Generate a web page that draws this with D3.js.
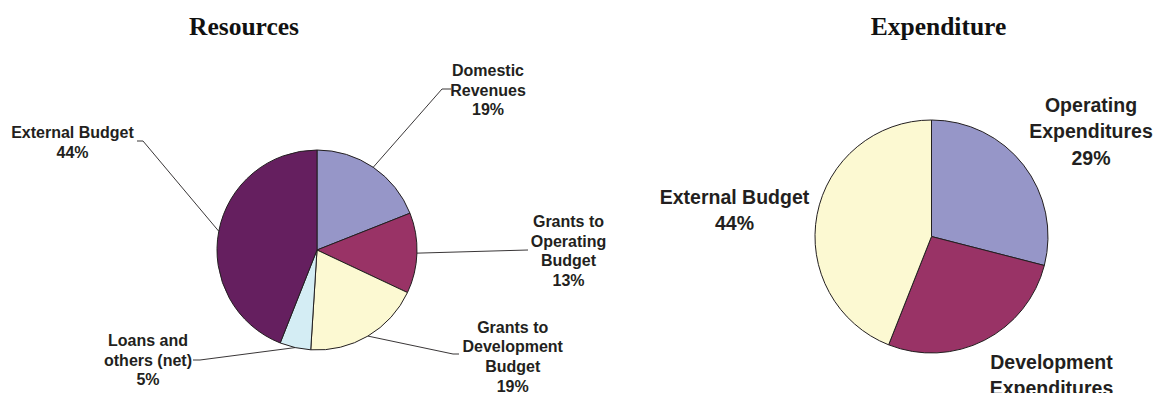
<!DOCTYPE html>
<html>
<head>
<meta charset="utf-8">
<script src="https://cdn.jsdelivr.net/npm/d3@7"></script>
<style>
  html, body { margin: 0; padding: 0; background: #fff; }
  svg { display: block; }
</style>
</head>
<body>
<svg id="chart" width="1157" height="393"></svg>
<script>
// Budget composition, shares in percent
const resourceCategories = [
  ["Domestic", "Revenues"],
  ["Grants to", "Operating", "Budget"],
  ["Grants to", "Development", "Budget"],
  ["Loans and", "others (net)"],
  ["External Budget"]
];
const resourceShares = [19, 13, 19, 5, 44];

const expenditureCategories = [
  ["Operating", "Expenditures"],
  ["Development", "Expenditures"],
  ["External Budget"]
];
const expenditureShares = [29, 27, 44];

const chartTitles = ["Resources", "Expenditure"];

// Slice fills
const resourceColors = ["#9696c8", "#993366", "#fcf9d2", "#d4edf4", "#651f5f"];
const expenditureColors = ["#9696c8", "#993366", "#fcf9d2"];

// Label anchors (centre x, first baseline y) and leader elbows
const resourceLabelLayout = [
  { x: 488, y: 76, lead: [[442, 89], [451, 89]] },
  { x: 568.5, y: 227, lead: [[528, 250]] },
  { x: 512.7, y: 332.5, lead: [[453, 354], [459, 354]] },
  { x: 148, y: 346, lead: [[200, 360], [193, 360]] },
  { x: 72.5, y: 138, lead: [[143, 141], [137, 141]] }
];
const expenditureLabelLayout = [
  { x: 1091, y: 111.5 },
  { x: 1051.5, y: 368.5 },
  { x: 734.5, y: 203.5 }
];

const svg = d3.select("#chart");
const ink = "#231f20";

function drawPie(opts) {
  const g = svg.append("g").attr("transform", `translate(${opts.cx},${opts.cy})`);
  const pie = d3.pie().sort(null).value(d => d)(opts.values);
  const arc = d3.arc().innerRadius(0).outerRadius(opts.r);

  g.selectAll("path.slice")
    .data(pie)
    .join("path")
    .attr("class", "slice")
    .attr("d", arc)
    .attr("fill", (d, i) => opts.colors[i])
    .attr("stroke", ink)
    .attr("stroke-width", 1)
    .attr("stroke-linejoin", "round");

  // leader lines from the slice's mid-angle on the rim to the label
  if (opts.leaders) {
    pie.forEach((d, i) => {
      const a = (d.startAngle + d.endAngle) / 2;
      const start = [opts.cx + opts.r * Math.sin(a), opts.cy - opts.r * Math.cos(a)];
      const pts = [start].concat(opts.layout[i].lead);
      svg.append("path")
        .attr("d", d3.line()(pts))
        .attr("fill", "none")
        .attr("stroke", ink)
        .attr("stroke-width", 0.9);
    });
  }

  // labels: category lines followed by the share
  pie.forEach((d, i) => {
    const L = opts.layout[i];
    const lines = opts.categories[i].concat([`${opts.values[i]}%`]);
    const t = svg.append("text")
      .attr("x", L.x)
      .attr("y", L.y)
      .attr("text-anchor", "middle")
      .attr("font-family", "'Liberation Sans', Arial, sans-serif")
      .attr("font-weight", "bold")
      .attr("font-size", opts.fontSize)
      .attr("fill", ink);
    lines.forEach((s, k) => {
      t.append("tspan")
        .attr("x", L.x)
        .attr("dy", k === 0 ? 0 : opts.lineHeight)
        .text(s);
    });
  });

  svg.append("text")
    .attr("x", opts.titleX)
    .attr("y", 34.5)
    .attr("text-anchor", "middle")
    .attr("font-family", "'Liberation Serif', 'Times New Roman', serif")
    .attr("font-weight", "bold")
    .attr("font-size", 25.5)
    .attr("fill", "#111")
    .text(opts.title);
}

drawPie({
  cx: 317, cy: 250, r: 100,
  values: resourceShares,
  categories: resourceCategories,
  colors: resourceColors,
  layout: resourceLabelLayout,
  leaders: true,
  fontSize: 16, lineHeight: 19.7,
  title: chartTitles[0], titleX: 244
});

drawPie({
  cx: 931.5, cy: 236.5, r: 116.5,
  values: expenditureShares,
  categories: expenditureCategories,
  colors: expenditureColors,
  layout: expenditureLabelLayout,
  leaders: false,
  fontSize: 19.5, lineHeight: 26.5,
  title: chartTitles[1], titleX: 938.5
});
</script>
</body>
</html>
